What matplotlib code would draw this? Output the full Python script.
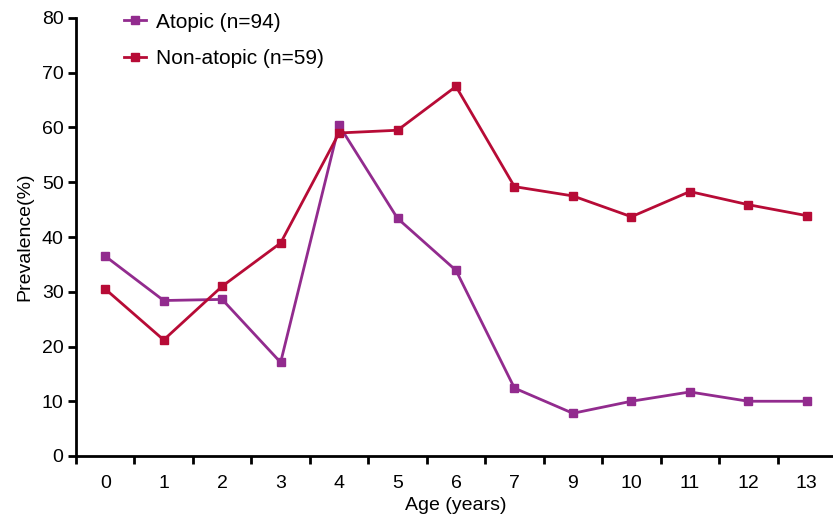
import numpy as np
import matplotlib.pyplot as plt

plt.rcParams['font.family'] = ['Liberation Sans', 'DejaVu Sans']

ages = ['0', '1', '2', '3', '4', '5', '6', '7', '9', '10', '11', '12', '13']
atopic = [36.5, 28.4, 28.6, 17.1, 60.4, 43.4, 33.9, 12.4, 7.8, 10.0, 11.7, 10.0, 10.0]
non_atopic = [30.5, 21.2, 31.0, 38.9, 59.0, 59.5, 67.5, 49.2, 47.5, 43.7, 48.3, 45.9, 43.9]

fig = plt.figure(figsize=(8.33, 5.2), dpi=100)
ax = fig.add_axes([76/833, 1 - 456/520, 760/833, (456 - 18)/520])

x = np.arange(len(ages))
ax.plot(x, atopic, color='#922B8E', lw=2, marker='s', ms=6, label='Atopic (n=94)')
ax.plot(x, non_atopic, color='#B70B36', lw=2, marker='s', ms=6, label='Non-atopic (n=59)')

ax.set_xlim(-0.5, len(ages) - 0.5)
ax.set_ylim(0, 80)
ax.set_yticks(range(0, 81, 10))
ax.set_xticks(x)
ax.set_xticklabels(ages)
ax.set_xticks(np.arange(-0.5, len(ages), 1), minor=True)
ax.tick_params(axis='x', which='major', length=0, labelsize=14, pad=14)
ax.tick_params(axis='x', which='minor', length=6, width=2)
ax.tick_params(axis='y', length=6, width=2, labelsize=14, pad=3)

for s in ['top', 'right']:
    ax.spines[s].set_visible(False)
for s in ['left', 'bottom']:
    ax.spines[s].set_linewidth(2)

ax.set_xlabel('Age (years)', fontsize=14, labelpad=3)
ax.set_ylabel('Prevalence(%)', fontsize=14, labelpad=6)

ax.legend(loc='upper left', bbox_to_anchor=(0.038, 1.055), frameon=False, fontsize=15,
          handlelength=1.05, handletextpad=0.5, labelspacing=0.85, markerscale=0.9)

fig.savefig('out.png', dpi=100)
